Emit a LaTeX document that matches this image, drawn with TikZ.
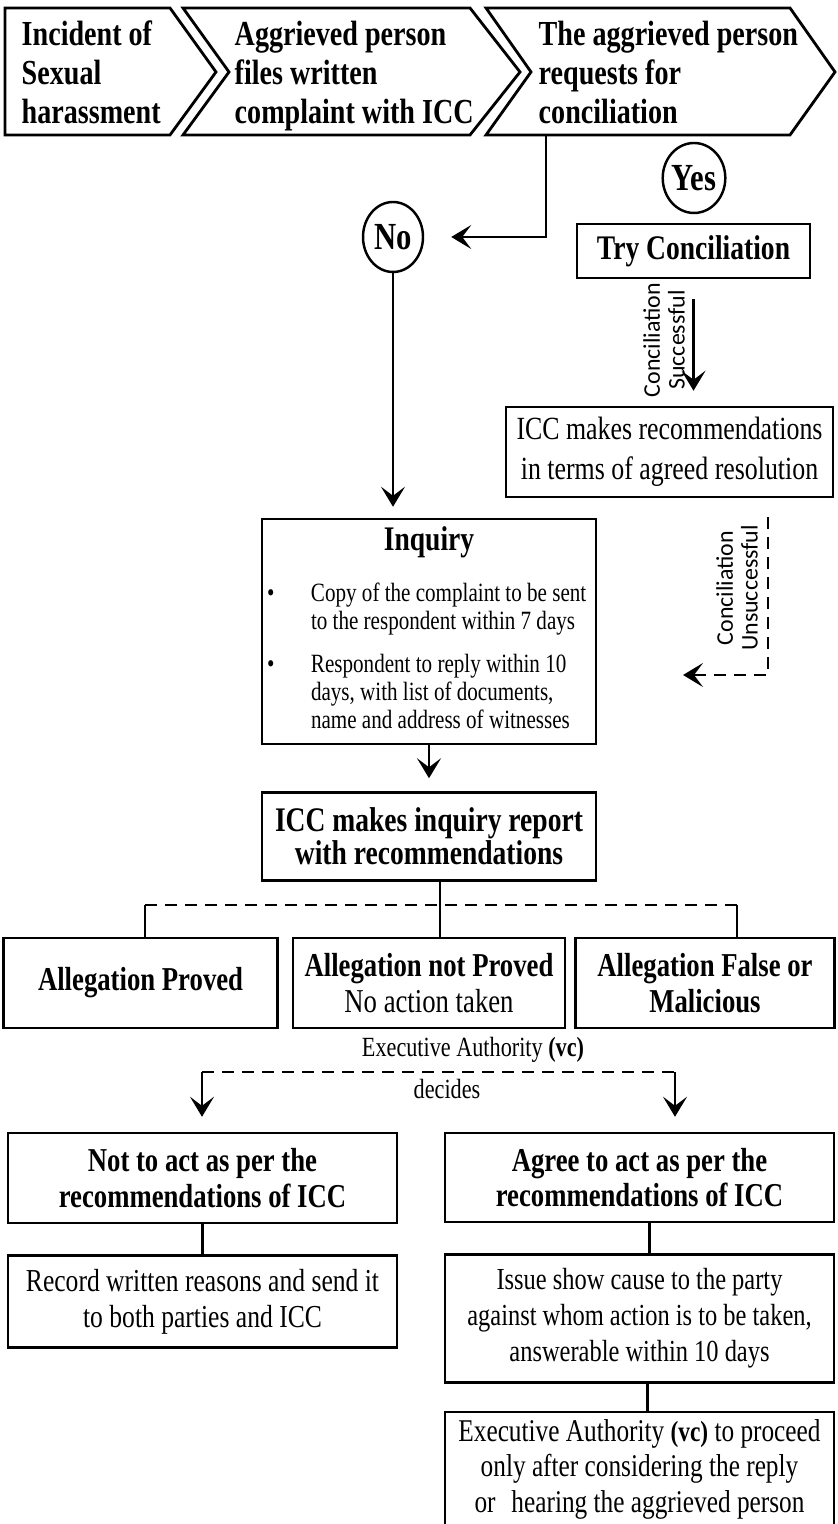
\documentclass[tikz,border=0pt]{standalone}
\usepackage{fontspec}
\setmainfont[FakeStretch=0.8]{Liberation Serif}
\newfontfamily\lblfont{Carlito}
\usetikzlibrary{arrows.meta, positioning, shapes.geometric}

\begin{document}
\begin{tikzpicture}[x=0.1mm, y=-0.1mm,
    chev/.style={line width=0.8pt, line join=miter},
    chevtxt/.style={anchor=west, align=left, inner sep=0pt, font=\bfseries\fontsize{10}{11.1}\selectfont,
      execute at begin node=\strut, execute at end node=\strut},
    blk/.style={draw, line width=0.7pt, align=center, inner sep=1pt},
    bfblk/.style={blk, font=\bfseries\fontsize{9.5}{10.2}\selectfont},
    rgblk/.style={blk, font=\fontsize{9}{10.2}\selectfont},
    oval/.style={draw, ellipse, line width=0.7pt, minimum width=6mm, minimum height=7mm, inner sep=0pt, font=\bfseries\fontsize{10.9}{11}\selectfont},
    arr/.style={-{Stealth[length=2mm, width=2.4mm, inset=0.9mm]}, line width=0.6pt},
    dsh/.style={line width=0.6pt, dash pattern=on 1.2mm off 0.8mm},
    sidelbl/.style={rotate=90, align=center, inner sep=0pt, font=\lblfont\fontsize{6.8}{7}\selectfont},
    eanote/.style={inner sep=1pt, font=\fontsize{7.9}{8.5}\selectfont}]
  \useasboundingbox (0,0) rectangle (837,1524);

  \draw[chev] (5,8) -- (170,8) -- (216,72) -- (170,135) -- (5,135) -- cycle;
  \draw[chev] (183,8) -- (470,8) -- (520,72) -- (470,135) -- (183,135) -- (229,72) -- cycle;
  \draw[chev] (486,8) -- (790,8) -- (835,72) -- (790,135) -- (486,135) -- (531,72) -- cycle;
  \node[chevtxt] (inc) at (21,78) {Incident of\\Sexual\\harassment};
  \node[chevtxt] (file) at (234,78) {Aggrieved person\\files written\\complaint with ICC};
  \node[chevtxt] (req) at (538,78) {The aggrieved person\\requests for\\conciliation};
  \coordinate (reqout) at (546,135);

  \node[oval] (no) at (393,237) {No};
  \node[oval] (yes) at (694,178) {Yes};
  \node[blk, font=\bfseries\fontsize{9.8}{10}\selectfont, minimum width=23.3mm,
        minimum height=5.4mm] (try) at (693.5,251) {Try Conciliation};
  \node[blk, font=\fontsize{9.2}{11.4}\selectfont, minimum width=32.7mm,
        minimum height=9mm] (agreed) at (669.5,452) {ICC makes recommendations\\in terms of agreed resolution};

  \node[blk, minimum width=33.4mm, minimum height=22.5mm] (inq) at (429,631.5)
    {{\bfseries\fontsize{9.8}{10}\selectfont Inquiry}\\[0.9mm]
     \fontsize{7.5}{7.9}\selectfont
     \begin{tabular}[t]{@{}p{4.4mm}@{}p{28mm}@{}}
       \textbullet & Copy of the complaint to be sent\newline to the respondent within 7 days\\[1.6mm]
       \textbullet & Respondent to reply within 10\newline days, with list of documents,\newline name and address of witnesses
     \end{tabular}};
  \node[bfblk, font=\bfseries\fontsize{9.8}{9.4}\selectfont, minimum width=33.4mm,
        minimum height=8.8mm, below=4.6mm of inq] (rep) {ICC makes inquiry report\\with recommendations};

  \node[bfblk, minimum width=27.2mm, minimum height=9mm, below=5.5mm of rep] (notp)
    {Allegation not Proved\\\mdseries No action taken};
  \node[bfblk, minimum width=27.4mm, minimum height=9mm, left=1.3mm of notp] (prov) {Allegation Proved};
  \node[bfblk, minimum width=25.9mm, minimum height=9mm, right=0.8mm of notp] (fals) {Allegation False or\\Malicious};

  \node[eanote] (ea) at (473,1050) {Executive Authority \textbf{(vc)}};
  \node[eanote] (dec) at (447,1089) {decides};

  \node[bfblk, minimum width=38.9mm, minimum height=9mm] (nact) at (202.5,1178)
    {Not to act as per the\\recommendations of ICC};
  \node[bfblk, minimum width=38.9mm, minimum height=8.9mm] (agr) at (639.5,1177.5)
    {Agree to act as per the\\recommendations of ICC};
  \node[rgblk, font=\fontsize{9.1}{10.2}\selectfont, minimum width=38.9mm,
        minimum height=9.2mm, below=3mm of nact] (rcd) {Record written reasons and send it\\to both parties and ICC};
  \node[rgblk, font=\fontsize{8.7}{10.2}\selectfont, minimum width=38.9mm,
        minimum height=12.8mm, below=3mm of agr] (iss)
    {Issue show cause to the party\\against whom action is to be taken,\\answerable within 10 days};
  \node[rgblk, minimum width=38.9mm, minimum height=11.5mm, below=2.7mm of iss] (exe)
    {Executive Authority {\bfseries\fontsize{8.3}{9}\selectfont(vc)} to proceed\\only after considering the reply\\or\enspace hearing the aggrieved person};

  \draw[arr, shorten >=2.7mm] (reqout) |- (no);
  \draw[arr, shorten >=1.1mm] (no) -- (no |- inq.north);
  \draw[arr, shorten <=2mm, shorten >=1.5mm] (try.south) -- (try.south |- agreed.north);
  \node[sidelbl] (oklbl) at (664,340) {Conciliation\\Successful};
  \coordinate (fail0) at (768,517);
  \coordinate (fail1) at (683,675);
  \draw[arr, dsh] (fail0) |- (fail1);
  \node[sidelbl] (faillbl) at (737,588) {Conciliation\\Unsuccessful};
  \draw[arr, shorten >=1.3mm] (inq) -- (rep);

  \coordinate (busl) at (145,905);
  \coordinate (busr) at (737,905);
  \draw[line width=0.6pt] ([xshift=1.1mm]rep.south) -- ([xshift=1.1mm]rep.south |- notp.north);
  \draw[dsh] (busl) -- (busr);
  \draw[line width=0.6pt] (busl) -- (busl |- prov.north);
  \draw[line width=0.6pt] (busr) -- (busr |- fals.north);

  \coordinate (decl) at (202,1072);
  \coordinate (decr) at (675,1072);
  \draw[dsh] (decl) -- (decr);
  \draw[arr, shorten >=1.5mm] (decl) -- (decl |- nact.north);
  \draw[arr, shorten >=1.5mm] (decr) -- (decr |- agr.north);

  \draw[line width=0.6pt] (nact) -- (rcd);
  \draw[line width=0.6pt] ([xshift=1mm]agr.south) -- ([xshift=1mm]iss.north);
  \draw[line width=0.6pt] ([xshift=0.8mm]iss.south) -- ([xshift=0.8mm]exe.north);
\end{tikzpicture}
\end{document}
